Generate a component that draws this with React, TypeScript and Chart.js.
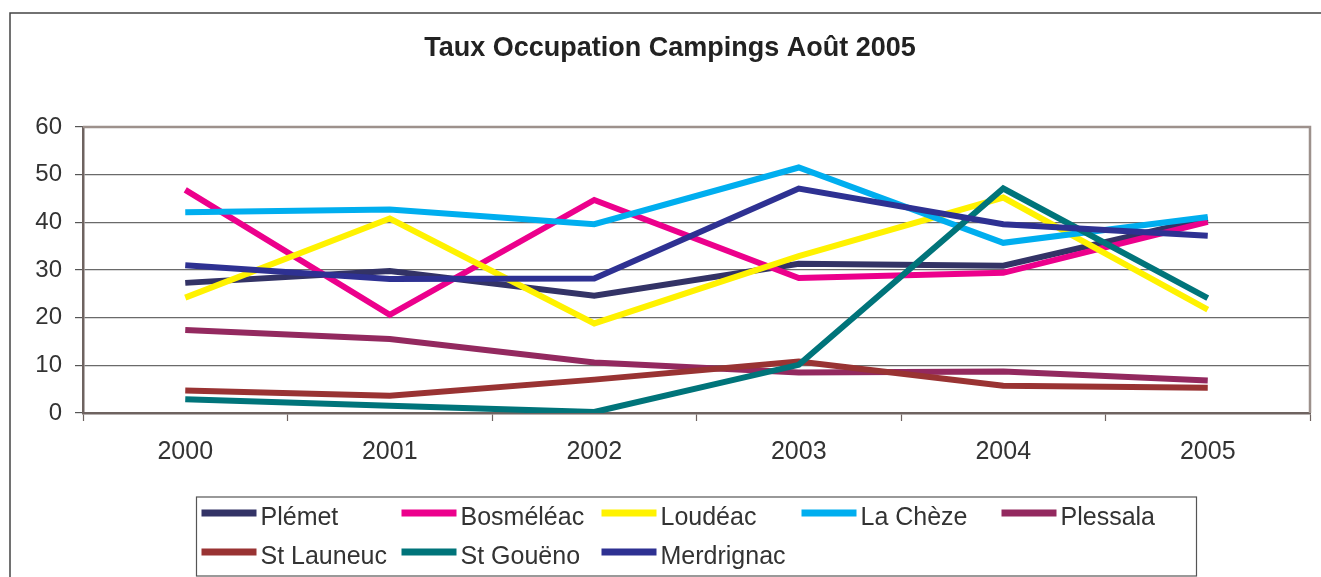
import React, { useEffect, useRef } from 'react';
import { Chart, registerables } from 'chart.js';
Chart.register(...registerables);

const TITLE = 'Taux Occupation Campings Août 2005';
const years = ['2000', '2001', '2002', '2003', '2004', '2005'];
const Y_MIN = 0;
const Y_MAX = 60;
const Y_STEP = 10;

const seriesNames = ['Plémet', 'Bosméléac', 'Loudéac', 'La Chèze', 'Plessala', 'St Launeuc', 'St Gouëno', 'Merdrignac'];
const plemet = [27.3, 29.8, 24.6, 31.3, 30.9, 40.8];
const bosmeleac = [46.8, 20.6, 44.7, 28.3, 29.4, 40.1];
const loudeac = [24.2, 40.8, 18.8, 32.9, 45.2, 21.7];
const laCheze = [42.1, 42.7, 39.6, 51.5, 35.7, 41.1];
const plessala = [17.4, 15.5, 10.6, 8.5, 8.7, 6.8];
const stLauneuc = [4.7, 3.6, 7.0, 10.8, 5.7, 5.3];
const stGoueno = [2.9, 1.5, 0.2, 10.1, 47.1, 24.1];
const merdrignac = [31.0, 28.1, 28.2, 47.1, 39.6, 37.2];
const seriesValues = [plemet, bosmeleac, loudeac, laCheze, plessala, stLauneuc, stGoueno, merdrignac];
const seriesColors = ['#333366', '#EC008C', '#FFF200', '#00AEEF', '#93295F', '#993333', '#00747A', '#2E3192'];

const FONT = '"Liberation Sans", Arial, Helvetica, sans-serif';
const TEXT = '#333333';

const decorPlugin = {
  id: 'decor',
  beforeDraw(chart: any) {
    const ctx = chart.ctx;
    ctx.save();
    ctx.fillStyle = '#ffffff';
    ctx.fillRect(0, 0, chart.width, chart.height);
    ctx.strokeStyle = '#444444';
    ctx.lineWidth = 1.5;
    ctx.strokeRect(10, 13, chart.width + 40, chart.height + 40);
    ctx.fillStyle = '#222222';
    ctx.font = 'bold 27px ' + FONT;
    ctx.textAlign = 'center';
    ctx.textBaseline = 'alphabetic';
    ctx.fillText(TITLE, 670, 56);
    ctx.restore();
  },
  beforeDatasetsDraw(chart: any) {
    const { ctx, chartArea } = chart;
    ctx.save();
    ctx.strokeStyle = '#9d918c';
    ctx.lineWidth = 2.5;
    ctx.beginPath();
    ctx.moveTo(chartArea.left, chartArea.top);
    ctx.lineTo(chartArea.right, chartArea.top);
    ctx.lineTo(chartArea.right, chartArea.bottom);
    ctx.stroke();
    ctx.restore();
  },
  afterDraw(chart: any) {
    const { ctx, chartArea } = chart;
    const boxW = 1000;
    const cx = (chartArea.left + chartArea.right) / 2;
    const left = cx - boxW / 2;
    const top = chartArea.bottom + 84;
    ctx.save();
    ctx.strokeStyle = '#555555';
    ctx.lineWidth = 1.2;
    ctx.strokeRect(left, top, boxW, chart.height - top - 1);
    ctx.font = '25px ' + FONT;
    ctx.textAlign = 'left';
    ctx.textBaseline = 'alphabetic';
    seriesNames.forEach((name, i) => {
      const col = i % 5;
      const row = Math.floor(i / 5);
      const x = left + 5 + col * 200;
      const my = top + 16 + row * 39;
      ctx.fillStyle = seriesColors[i];
      ctx.fillRect(x, my - 3.5, 55, 7);
      ctx.fillStyle = TEXT;
      ctx.fillText(name, x + 59, top + 28 + row * 39);
    });
    ctx.restore();
  },
};

export default function App() {
  const ref = useRef<HTMLCanvasElement>(null);
  useEffect(() => {
    if (!ref.current) return;
    const chart = new Chart(ref.current, {
      type: 'line',
      data: {
        labels: years,
        datasets: seriesNames.map((name, i) => ({
          label: name,
          data: seriesValues[i],
          borderColor: seriesColors[i],
          backgroundColor: seriesColors[i],
          borderWidth: 6,
          pointRadius: 0,
          pointHoverRadius: 0,
          tension: 0,
          fill: false,
          borderJoinStyle: 'miter' as const,
          borderCapStyle: 'butt' as const,
          order: seriesNames.length - i,
        })),
      },
      options: {
        animation: false,
        responsive: false,
        devicePixelRatio: 1,
        layout: { padding: { left: 10, right: 11, top: 127, bottom: 104 } },
        plugins: {
          legend: { display: false },
          title: { display: false },
          tooltip: { enabled: false },
        },
        scales: {
          x: {
            type: 'category',
            offset: true,
            afterFit(scale: any) { scale.height = 60; },
            grid: {
              offset: true,
              drawOnChartArea: false,
              drawTicks: true,
              tickLength: 8,
              tickColor: '#6e6360',
              tickWidth: 1.2,
            },
            border: { display: true, color: '#6e6360', width: 2.5 },
            ticks: {
              color: TEXT,
              font: { family: FONT, size: 25 },
              padding: 16,
              maxRotation: 0,
              autoSkip: false,
            },
          },
          y: {
            min: Y_MIN,
            max: Y_MAX,
            afterFit(scale: any) { scale.width = 73; },
            grid: {
              color: '#6a6a6a',
              lineWidth: 1.2,
              drawTicks: true,
              tickLength: 8,
              tickColor: '#555555',
              tickWidth: 1.2,
            },
            border: { display: true, color: '#6e6360', width: 2.5 },
            ticks: {
              stepSize: Y_STEP,
              color: TEXT,
              font: { family: FONT, size: 24 },
              padding: 13,
            },
          },
        },
      },
      plugins: [decorPlugin],
    });
    return () => chart.destroy();
  }, []);
  return (
    <div style={{ position: 'fixed', left: 0, top: 0, width: 1321, height: 577, background: '#fff' }}>
      <canvas ref={ref} width={1321} height={577} style={{ display: 'block' }} />
    </div>
  );
}
